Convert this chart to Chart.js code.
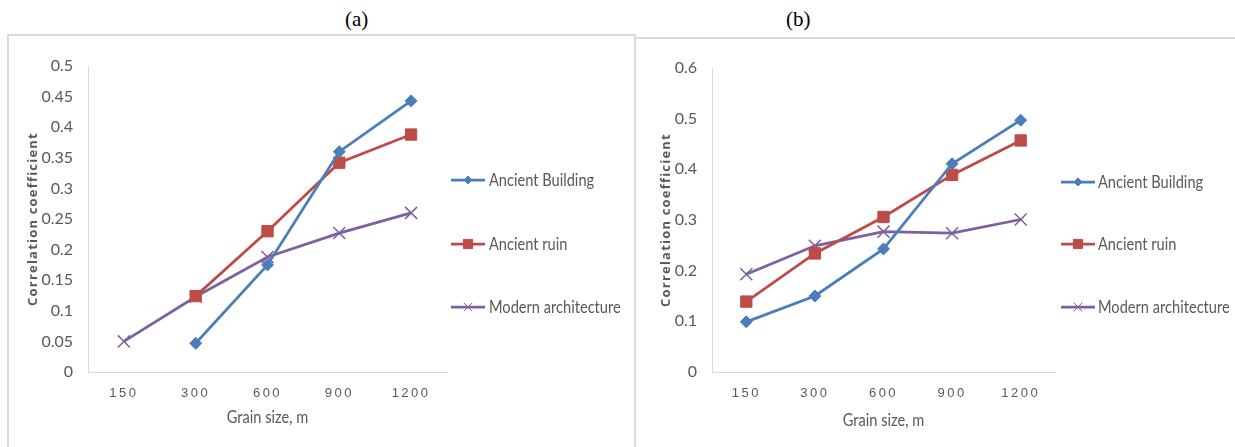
<!DOCTYPE html>
<html>
<head>
<meta charset="utf-8">
<script src="https://cdn.jsdelivr.net/npm/chart.js@4"></script>
<style>
  html, body { margin: 0; padding: 0; background: #fff; width: 1235px; height: 447px; overflow: hidden; position: relative; }
  .panel-label { position: absolute; font-family: 'Liberation Serif', 'Times New Roman', serif; font-size: 21px; color: #000; line-height: 1; }
  .box { position: absolute; border: 2px solid #d9d9d9; background: #fff; }
  .box canvas { display: block; }
</style>
</head>
<body>
<div class="panel-label" id="labA" style="left:345px; top:9px;">(a)</div>
<div class="panel-label" id="labB" style="left:786px; top:9px;">(b)</div>
<div class="box" style="left:7px; top:34px; width:625px; height:420px;"><canvas id="chartA" width="625" height="420"></canvas></div>
<div class="box" style="left:634px; top:37px; width:605px; height:420px;"><canvas id="chartB" width="605" height="420"></canvas></div>
<script>
// Grain sizes (m) on the category axis
const categories = ['150', '300', '600', '900', '1200'];
const seriesNames = ['Ancient Building', 'Ancient ruin', 'Modern architecture'];

// Panel (a) correlation coefficients
const aAncientBuilding = [null, 0.047, 0.175, 0.360, 0.443];
const aAncientRuin = [null, 0.124, 0.230, 0.342, 0.388];
const aModernArchitecture = [0.050, 0.123, 0.188, 0.227, 0.260];

// Panel (b) correlation coefficients
const bAncientBuilding = [0.099, 0.150, 0.243, 0.411, 0.497];
const bAncientRuin = [0.139, 0.234, 0.306, 0.389, 0.457];
const bModernArchitecture = [0.193, 0.249, 0.277, 0.274, 0.301];

// Value axis ranges
const aAxis = { max: 0.5, step: 0.05 };
const bAxis = { max: 0.6, step: 0.1 };

const xTitle = 'Grain size, m';
const yTitle = 'Correlation coefficient';

const COLORS = ['#4a7ebb', '#be4b48', '#7d60a0'];
const TEXT = '#595959';
const AXIS = '#d9d9d9';
const HUMANIST = "Lato, 'Open Sans', sans-serif";
const CONDENSE = 0.86;

function makeDatasets(values) {
  const styles = [
    { pointStyle: 'rectRot', radius: 6, borderWidth: 1 },
    { pointStyle: 'rect', radius: 8, borderWidth: 1 },
    { pointStyle: 'crossRot', radius: 8.5, borderWidth: 1.5 }
  ];
  return values.map((v, i) => ({
    label: seriesNames[i],
    data: v,
    borderColor: COLORS[i],
    backgroundColor: COLORS[i],
    borderWidth: 2.75,
    pointStyle: styles[i].pointStyle,
    pointRadius: styles[i].radius,
    pointHoverRadius: styles[i].radius,
    pointBorderWidth: styles[i].borderWidth,
    pointBackgroundColor: COLORS[i],
    pointBorderColor: COLORS[i],
    tension: 0,
    spanGaps: false,
    fill: false
  }));
}

// Letter-spaced category labels, spaced value-axis title, condensed x title
const spacingPlugin = {
  id: 'spacing',
  beforeDraw(chart) {
    const xs = chart.scales.x, ys = chart.scales.y;
    if (!xs._spaced) {
      const orig = xs.drawLabels;
      xs.drawLabels = function (area) {
        this.ctx.save();
        this.ctx.letterSpacing = '2.5px';
        orig.call(this, area);
        this.ctx.restore();
      };
      const origXT = xs.drawTitle;
      xs.drawTitle = function () {
        const c = this.ctx, cx = (this.left + this.right) / 2;
        c.save();
        c.translate(cx, 0);
        c.scale(CONDENSE, 1);
        c.translate(-cx, 0);
        origXT.call(this);
        c.restore();
      };
      xs._spaced = true;
    }
    if (!ys._spaced) {
      const origT = ys.drawTitle;
      ys.drawTitle = function () {
        this.ctx.save();
        this.ctx.letterSpacing = '1.2px';
        origT.call(this);
        this.ctx.restore();
      };
      ys._spaced = true;
    }
  }
};

// Vertical legend to the right of the plot
const sideLegend = {
  id: 'sideLegend',
  afterDraw(chart, args, opts) {
    const ctx = chart.ctx;
    const marks = [
      { style: 'rectRot', r: 4 },
      { style: 'rect', r: 6.5 },
      { style: 'crossRot', r: 6 }
    ];
    chart.data.datasets.forEach((ds, i) => {
      const y = opts.ys[i];
      ctx.save();
      ctx.strokeStyle = ds.borderColor;
      ctx.lineWidth = 2.75;
      ctx.beginPath();
      ctx.moveTo(opts.x, y);
      ctx.lineTo(opts.x + opts.len, y);
      ctx.stroke();
      ctx.fillStyle = ds.borderColor;
      ctx.lineWidth = 1;
      Chart.helpers.drawPoint(ctx, { pointStyle: marks[i].style, radius: marks[i].r, rotation: 0, borderWidth: 1 }, opts.x + opts.len / 2, y);
      ctx.fillStyle = TEXT;
      ctx.font = '17px ' + HUMANIST;
      ctx.textBaseline = 'middle';
      ctx.textAlign = 'left';
      ctx.translate(opts.textX, y + 1);
      ctx.scale(CONDENSE, 1);
      ctx.fillText(ds.label, 0, 0);
      ctx.restore();
    });
  }
};

function makeChart(id, values, axis, geo) {
  return new Chart(document.getElementById(id), {
    type: 'line',
    data: { labels: categories, datasets: makeDatasets(values) },
    plugins: [spacingPlugin, sideLegend],
    options: {
      responsive: false,
      animation: false,
      events: [],
      layout: { padding: { left: 0, top: geo.top, right: geo.right, bottom: 0 } },
      plugins: {
        legend: { display: false },
        tooltip: { enabled: false },
        sideLegend: geo.legend
      },
      scales: {
        x: {
          type: 'category',
          offset: true,
          grid: { display: false, drawTicks: false },
          border: { display: true, color: AXIS, width: 1 },
          ticks: { color: TEXT, font: { family: "'Liberation Sans', sans-serif", size: 13 }, padding: 14, maxRotation: 0, autoSkip: false },
          title: { display: true, text: xTitle, color: TEXT, font: { family: HUMANIST, size: 17 }, padding: { top: 0, bottom: 28 } },
          afterFit(s) { s.height = geo.xHeight; }
        },
        y: {
          min: 0,
          max: axis.max,
          grid: { display: false, drawTicks: false },
          border: { display: true, color: AXIS, width: 1 },
          ticks: {
            stepSize: axis.step,
            color: TEXT,
            padding: 15,
            font: { family: HUMANIST, size: 16 },
            callback: v => String(+v.toFixed(2))
          },
          title: { display: true, text: yTitle, color: TEXT, font: { family: "'Open Sans', sans-serif", size: 13, weight: '700' }, padding: { top: geo.titlePad, bottom: 0 } },
          afterFit(s) { s.width = geo.yWidth; }
        }
      }
    }
  });
}

makeChart('chartA', [aAncientBuilding, aAncientRuin, aModernArchitecture], aAxis, {
  top: 30, right: 187, yWidth: 79, xHeight: 84, titlePad: 16,
  legend: { x: 442, len: 34, textX: 480, ys: [144, 208, 271] }
});
makeChart('chartB', [bAncientBuilding, bAncientRuin, bModernArchitecture], bAxis, {
  top: 29, right: 186, yWidth: 76, xHeight: 87, titlePad: 22,
  legend: { x: 425, len: 34, textX: 462, ys: [143, 205, 268] }
});
</script>
</body>
</html>
